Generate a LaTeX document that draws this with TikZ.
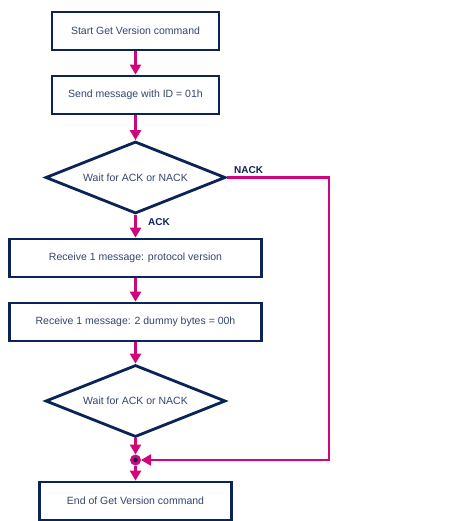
\documentclass[tikz,border=0pt]{standalone}
\usepackage{fontspec}
\setmainfont{Liberation Sans}
\usetikzlibrary{shapes.geometric,arrows.meta}
\definecolor{navy}{HTML}{0B2458}
\definecolor{mag}{HTML}{D1067B}
\definecolor{txt}{HTML}{34456A}
\begin{document}
\begin{tikzpicture}[x=1pt,y=-1pt,
  box/.style={draw=navy, line width=2.8pt, fill=white, text=txt,
    font=\fontsize{10.5}{12}\selectfont, inner sep=0pt, minimum height=38pt},
  dec/.style={diamond, shape aspect=2.5, draw=navy, line width=2.8pt, fill=white, text=txt,
    font=\fontsize{10.5}{12}\selectfont, inner sep=0pt,
    minimum width=180pt, minimum height=72pt},
  flow/.style={draw=mag, line width=2.5pt, -{Triangle[width=11pt,length=10pt]}},
  lab/.style={text=navy, font=\fontsize{10}{12}\selectfont\bfseries, inner sep=0pt}]
\useasboundingbox (0,0) rectangle (465,521);
\node[box, minimum width=167pt] (b1) at (135.5,31) {Start Get Version command};
\node[box, minimum width=167pt] (b2) at (135.5,95) {Send message with ID = 01h};
\node[dec] (d1) at (135.5,177.5) {Wait for ACK or NACK};
\node[box, minimum width=252pt] (b3) at (135.5,258) {Receive 1 message: protocol version};
\node[box, minimum width=252pt] (b4) at (135.5,322) {Receive 1 message: 2 dummy bytes = 00h};
\node[dec] (d2) at (135.5,401) {Wait for ACK or NACK};
\node[circle, fill=mag, minimum size=11pt, inner sep=0pt, outer sep=0pt] (j) at (135.5,460) {};
\node[box, minimum width=192pt] (b5) at (135.5,501) {End of Get Version command};
\coordinate (nk) at (329,177.5);
\draw[flow] (b1) -- (b2);
\draw[flow] (b2) -- (d1);
\draw[flow] (d1) -- (b3);
\draw[flow] (b3) -- (b4);
\draw[flow] (b4) -- (d2);
\draw[flow] (d2) -- (j);
\draw[flow] (j) -- (b5);
\draw[flow] (d1.east) -- (nk) |- (j);
\fill[navy] (j.center) circle (2.2pt);
\node[lab, anchor=west] (nack) at (234,170) {NACK};
\node[lab, anchor=west] (ack) at (148,222) {ACK};
\end{tikzpicture}
\end{document}
